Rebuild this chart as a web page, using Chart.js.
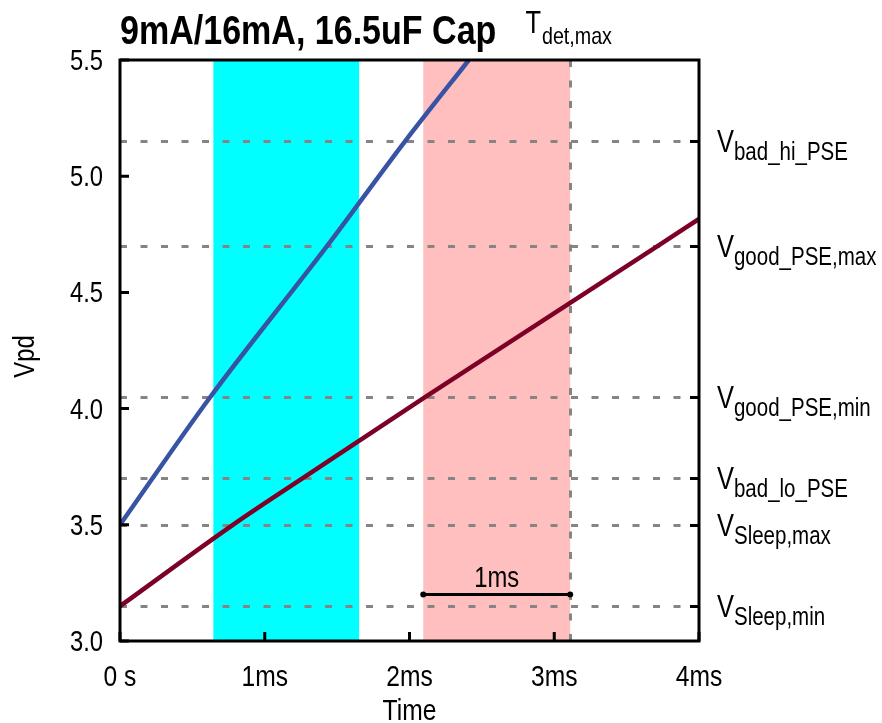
<!DOCTYPE html>
<html>
<head>
<meta charset="utf-8">
<script src="https://cdn.jsdelivr.net/npm/chart.js@4.4.1/dist/chart.umd.min.js"></script>
<style>
  html, body { margin: 0; padding: 0; background: #ffffff; }
  #wrap { width: 882px; height: 723px; }
</style>
</head>
<body>
<div id="wrap"><canvas id="c" width="882" height="723"></canvas></div>
<script>
const FONT = '"Liberation Sans", Arial, sans-serif';
const NARROW = 0.82;   // horizontal squeeze giving a narrow face

// Vpd ramps: time in ms, voltage in V
const fastTime = [0, 0.624, 1.431, 1.969, 2.41];
const fastVpd  = [3.50, 4.05, 4.70, 5.15, 5.50];
const slowTime = [0, 0.78, 1.26, 2.11, 3.716, 4.0];
const slowVpd  = [3.15, 3.50, 3.70, 4.05, 4.70, 4.816];

// PSE threshold levels (V) with their subscript names
const refLevels = [5.15, 4.70, 4.05, 3.70, 3.50, 3.15];
const refNames  = ['bad_hi_PSE', 'good_PSE,max', 'good_PSE,min', 'bad_lo_PSE', 'Sleep,max', 'Sleep,min'];

// shaded time windows (ms)
const windowCyan = [0.645, 1.652];
const windowPink = [2.095, 3.11];
const tDetMax = 3.11;

// 1 ms span marker: from, to (ms), at level (V)
const spanMarker = [2.095, 3.11, 3.2];
const spanLabel = '1ms';

// axis ticks and titles
const xTicks = [0, 1, 2, 3, 4];
const xTickLabels = ['0 s', '1ms', '2ms', '3ms', '4ms'];
const yTicks = [3.0, 3.5, 4.0, 4.5, 5.0, 5.5];
const yTickLabels = ['3.0', '3.5', '4.0', '4.5', '5.0', '5.5'];
const xTitle = 'Time';
const yTitle = 'Vpd';
const titleText = '9mA/16mA, 16.5uF Cap';

const toPoints = (xs, ys) => xs.map((x, i) => ({ x: x, y: ys[i] }));

// narrow text helper
function fontOf(size, bold) { return (bold ? 'bold ' : '') + size + 'px ' + FONT; }
function textWidth(ctx, s, size, bold) {
  ctx.save(); ctx.font = fontOf(size, bold);
  const w = ctx.measureText(s).width * NARROW;
  ctx.restore();
  return w;
}
function drawText(ctx, s, x, y, size, opt) {
  opt = opt || {};
  ctx.save();
  ctx.font = fontOf(size, opt.bold);
  ctx.fillStyle = '#000000';
  ctx.textAlign = opt.align || 'left';
  ctx.textBaseline = 'alphabetic';
  ctx.translate(x, y);
  if (opt.rotate) ctx.rotate(opt.rotate);
  ctx.scale(NARROW, 1);
  ctx.fillText(s, 0, 0);
  ctx.restore();
}

const overlay = {
  id: 'overlay',
  beforeDatasetsDraw(chart) {
    const { ctx, chartArea: a, scales: { x, y } } = chart;
    ctx.save();
    // shaded windows
    ctx.fillStyle = '#00FFFF';
    ctx.fillRect(x.getPixelForValue(windowCyan[0]), a.top,
      x.getPixelForValue(windowCyan[1]) - x.getPixelForValue(windowCyan[0]), a.bottom - a.top);
    ctx.fillStyle = '#FFBFBF';
    ctx.fillRect(x.getPixelForValue(windowPink[0]), a.top,
      x.getPixelForValue(windowPink[1]) - x.getPixelForValue(windowPink[0]), a.bottom - a.top);
    // dashed threshold lines
    ctx.strokeStyle = '#858585';
    ctx.lineWidth = 3;
    ctx.setLineDash([7, 13.5]);
    refLevels.forEach(v => {
      const py = Math.round(y.getPixelForValue(v)) + 0.5;
      ctx.beginPath();
      ctx.moveTo(a.left, py);
      ctx.lineTo(a.right, py);
      ctx.stroke();
    });
    // T_det,max marker
    const px = Math.round(x.getPixelForValue(tDetMax)) + 0.5;
    ctx.beginPath();
    ctx.moveTo(px, a.top);
    ctx.lineTo(px, a.bottom);
    ctx.stroke();
    ctx.restore();
  },
  afterDatasetsDraw(chart) {
    const { ctx, chartArea: a, scales: { x, y } } = chart;
    ctx.save();
    ctx.strokeStyle = '#000000';
    ctx.lineWidth = 3;
    ctx.setLineDash([]);
    // frame
    ctx.strokeRect(a.left, a.top, a.right - a.left, a.bottom - a.top);
    // inward ticks
    ctx.beginPath();
    yTicks.forEach(v => {
      const py = y.getPixelForValue(v);
      ctx.moveTo(a.left, py); ctx.lineTo(a.left + 9, py);
    });
    xTicks.forEach(v => {
      const px = x.getPixelForValue(v);
      ctx.moveTo(px, a.bottom); ctx.lineTo(px, a.bottom - 9);
    });
    refLevels.forEach(v => {
      const py = Math.round(y.getPixelForValue(v)) + 0.5;
      ctx.moveTo(a.right, py); ctx.lineTo(a.right - 9, py);
    });
    ctx.stroke();

    // 1 ms span marker
    const x0 = x.getPixelForValue(spanMarker[0]);
    const x1 = x.getPixelForValue(spanMarker[1]);
    const sy = y.getPixelForValue(spanMarker[2]);
    ctx.beginPath();
    ctx.moveTo(x0, sy); ctx.lineTo(x1, sy);
    ctx.stroke();
    ctx.fillStyle = '#000000';
    [x0, x1].forEach(px => { ctx.beginPath(); ctx.arc(px, sy, 3, 0, Math.PI * 2); ctx.fill(); });
    ctx.restore();
    drawText(ctx, spanLabel, (x0 + x1) / 2, sy - 8, 29, { align: 'center' });
  },
  afterDraw(chart) {
    const { ctx, chartArea: a, scales: { x, y } } = chart;
    // tick labels
    yTicks.forEach((v, i) => {
      drawText(ctx, yTickLabels[i], a.left - 17, y.getPixelForValue(v) + 10, 29, { align: 'right' });
    });
    xTicks.forEach((v, i) => {
      drawText(ctx, xTickLabels[i], x.getPixelForValue(v), 686, 30, { align: 'center' });
    });
    // axis titles
    drawText(ctx, xTitle, (a.left + a.right) / 2, 720, 30, { align: 'center' });
    drawText(ctx, yTitle, 34, (a.top + a.bottom) / 2 + 6, 29, { align: 'center', rotate: -Math.PI / 2 });
    // chart title
    drawText(ctx, titleText, a.left, 44, 41.5, { bold: true });
    // T_det,max label centred over its marker
    const wT = textWidth(ctx, 'T', 31);
    const wS = textWidth(ctx, 'det,max', 24);
    const cx = x.getPixelForValue(tDetMax) - (wT + wS) / 2;
    drawText(ctx, 'T', cx - 2, 33, 31);
    drawText(ctx, 'det,max', cx + wT - 1, 44, 24);
    // threshold names on the right
    refLevels.forEach((v, i) => {
      const py = y.getPixelForValue(v);
      drawText(ctx, 'V', a.right + 18, py + 11, 31);
      const wV = textWidth(ctx, 'V', 31);
      drawText(ctx, refNames[i], a.right + 18 + wV, py + 19, 25);
    });
  }
};

new Chart(document.getElementById('c'), {
  type: 'line',
  data: {
    datasets: [
      {
        label: '16mA',
        data: toPoints(fastTime, fastVpd),
        borderColor: '#3953A4',
        borderWidth: 4.5,
        pointRadius: 0,
        cubicInterpolationMode: 'monotone'
      },
      {
        label: '9mA',
        data: toPoints(slowTime, slowVpd),
        borderColor: '#7D0026',
        borderWidth: 4.5,
        pointRadius: 0,
        cubicInterpolationMode: 'monotone'
      }
    ]
  },
  options: {
    responsive: false,
    animation: false,
    devicePixelRatio: 1,
    layout: { padding: { left: 0, top: 60, right: 183, bottom: 0 } },
    plugins: { legend: { display: false }, title: { display: false }, tooltip: { enabled: false } },
    scales: {
      x: {
        type: 'linear',
        min: 0, max: 4,
        grid: { display: false, drawTicks: false },
        border: { display: false },
        afterBuildTicks: s => { s.ticks = xTicks.map(v => ({ value: v })); },
        afterFit: s => { s.height = 82; },
        ticks: { display: false }
      },
      y: {
        type: 'linear',
        min: 3, max: 5.5,
        grid: { display: false, drawTicks: false },
        border: { display: false },
        afterBuildTicks: s => { s.ticks = yTicks.map(v => ({ value: v })); },
        afterFit: s => { s.width = 120; },
        ticks: { display: false }
      }
    }
  },
  plugins: [overlay]
});
</script>
</body>
</html>
